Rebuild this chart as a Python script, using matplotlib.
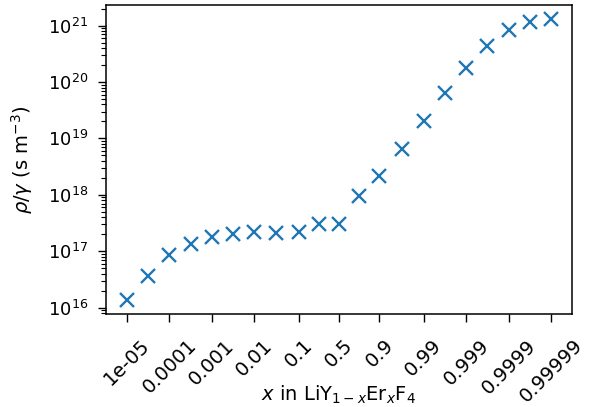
import numpy as np
import matplotlib
matplotlib.use("Agg")
import matplotlib.pyplot as plt

# Er fraction x (logit-spaced)
x_vals = [1e-5, 3.16e-5, 1e-4, 3.16e-4, 1e-3, 3.16e-3, 0.01, 0.0316, 0.1, 0.25,
          0.5, 0.75, 0.9, 0.9684, 0.99, 0.99684, 0.999, 0.999684, 0.9999,
          0.9999684, 0.99999]
rho_gamma = [1.35e16, 3.7e16, 8.4e16, 1.36e17, 1.79e17, 2.03e17, 2.2e17, 2.14e17,
             2.2e17, 3.08e17, 3.08e17, 9.7e17, 2.13e18, 6.6e18, 2.01e19, 6.3e19,
             1.8e20, 4.3e20, 8.5e20, 1.18e21, 1.31e21]
tick_vals = [1e-5, 1e-4, 1e-3, 0.01, 0.1, 0.5, 0.9, 0.99, 0.999, 0.9999, 0.99999]
tick_labels = [str(v) for v in tick_vals]

plt.rcParams['font.size'] = 13
plt.rcParams['xtick.major.size'] = 5.6
plt.rcParams['ytick.major.size'] = 5.6
plt.rcParams['xtick.minor.size'] = 3.4
plt.rcParams['ytick.minor.size'] = 3.4
plt.rcParams['xtick.major.pad'] = 10
plt.rcParams['ytick.major.pad'] = 7
plt.rcParams['xtick.major.width'] = 1.0
plt.rcParams['ytick.major.width'] = 1.0
plt.rcParams['ytick.minor.width'] = 0.8
plt.rcParams['axes.linewidth'] = 1.1

fig = plt.figure(figsize=(6.05, 4.07), dpi=100)
ax = fig.add_axes([105.7/605, 1-314.3/407, (572.3-105.7)/605, (314.3-5)/407])
ax.plot(x_vals, rho_gamma, linestyle='none', marker='x', markersize=10,
        markeredgewidth=1.7, color='#1f77b4')
ax.set_xscale('logit')
ax.set_yscale('log')
ax.set_xticks(tick_vals)
ax.set_xticklabels(tick_labels, rotation=45, fontsize=14)
ax.xaxis.set_minor_locator(matplotlib.ticker.NullLocator())
ax.set_xlabel(r'$x$ in LiY$_{1-x}$Er$_x$F$_4$', fontsize=14)
ax.xaxis.label.set_va('baseline')
ax.xaxis.set_label_coords(0.5, (314.3 - 401) / 309.3)
ax.set_ylabel(r'$\rho/\gamma$ (s m$^{-3}$)', fontsize=14, labelpad=9.5)
fig.savefig('out.png', dpi=100)
